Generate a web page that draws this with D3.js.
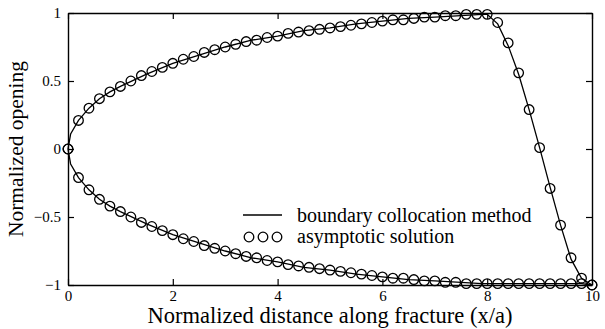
<!DOCTYPE html>
<html>
<head>
<meta charset="utf-8">
<script src="https://cdn.jsdelivr.net/npm/d3@7"></script>
<style>
  body { margin: 0; background: #fff; }
  svg { display: block; font-family: "Liberation Serif", "Times New Roman", serif; }
</style>
</head>
<body>
<svg id="chart" width="605" height="329"></svg>
<script>
// asymptotic solution (circles), step 0.2
const xs = [0, 0.2, 0.4, 0.6, 0.8, 1.0, 1.2, 1.4, 1.6, 1.8, 2.0, 2.2, 2.4, 2.6, 2.8, 3.0, 3.2, 3.4, 3.6, 3.8,
  4.0, 4.2, 4.4, 4.6, 4.8, 5.0, 5.2, 5.4, 5.6, 5.8, 6.0, 6.2, 6.4, 6.6, 6.8, 7.0, 7.2, 7.4, 7.6, 7.8,
  8.0, 8.2, 8.4, 8.6, 8.8, 9.0, 9.2, 9.4, 9.6, 9.8, 10.0];
const upper = [0, 0.21, 0.30, 0.37, 0.42, 0.46, 0.50, 0.54, 0.57, 0.60, 0.63, 0.66, 0.68, 0.71, 0.73, 0.75, 0.77, 0.79, 0.80, 0.82,
  0.83, 0.85, 0.86, 0.87, 0.88, 0.89, 0.90, 0.91, 0.92, 0.93, 0.94, 0.95, 0.95, 0.96, 0.97, 0.97, 0.98, 0.98, 0.99, 0.99,
  0.99, 0.93, 0.78, 0.56, 0.29, 0.01, -0.29, -0.56, -0.80, -0.95, -1.0];
const lower = [0, -0.21, -0.30, -0.37, -0.42, -0.46, -0.50, -0.54, -0.57, -0.60, -0.63, -0.66, -0.68, -0.71, -0.73, -0.75, -0.77, -0.79, -0.80, -0.82,
  -0.83, -0.85, -0.86, -0.87, -0.88, -0.89, -0.90, -0.91, -0.92, -0.93, -0.94, -0.95, -0.95, -0.96, -0.97, -0.97, -0.98, -0.98, -0.99, -0.99,
  -0.99, -0.99, -0.99, -0.99, -0.99, -0.99, -0.99, -0.99, -0.99, -0.99, -1.0];

// boundary collocation method (solid line)
const lineX = [0, 0.05, 0.2, 0.4, 0.6, 0.8, 1.0, 1.5, 2.0, 2.5, 3.0, 3.5, 4.0, 4.5, 5.0, 5.5, 6.0, 6.5, 7.0, 7.5, 7.9,
  8.0, 8.2, 8.4, 8.6, 8.8, 9.0, 9.2, 9.4, 9.6, 9.8, 10.0];
const lineUpper = [0, 0.11, 0.21, 0.30, 0.37, 0.42, 0.46, 0.55, 0.63, 0.69, 0.75, 0.80, 0.83, 0.87, 0.89, 0.92, 0.94, 0.96, 0.97, 0.98, 0.99,
  0.99, 0.92, 0.76, 0.55, 0.29, 0.01, -0.28, -0.56, -0.81, -0.95, -1.0];
const lineLower = [0, -0.11, -0.21, -0.30, -0.37, -0.42, -0.46, -0.55, -0.63, -0.69, -0.75, -0.80, -0.83, -0.87, -0.89, -0.92, -0.94, -0.96, -0.97, -0.98, -0.99,
  -0.99, -0.99, -0.99, -0.99, -0.99, -0.99, -0.99, -0.99, -0.99, -0.99, -1.0];

const xTicks = [0, 2, 4, 6, 8, 10];
const yTicks = [-1, -0.5, 0, 0.5, 1];
const yTickLabels = ["\u22121", "\u22120.5", "0", "0.5", "1"];

const svg = d3.select("#chart"),
  margin = { top: 13, right: 13, bottom: 44, left: 68 },
  width = +svg.attr("width") - margin.left - margin.right,
  height = +svg.attr("height") - margin.top - margin.bottom;

const g = svg.append("g").attr("transform", "translate(" + margin.left + "," + margin.top + ")");

const x = d3.scaleLinear().domain([0, 10]).range([0, width]);
const y = d3.scaleLinear().domain([-1, 1]).range([height, 0]);

// axes with inward ticks, all four sides make the frame
const axBottom = g.append("g").attr("transform", "translate(0," + height + ")")
  .call(d3.axisBottom(x).tickValues(xTicks).tickSizeInner(-6).tickSizeOuter(0).tickPadding(5).tickFormat(d3.format("d")));
const axLeft = g.append("g")
  .call(d3.axisLeft(y).tickValues(yTicks).tickSizeInner(-6).tickSizeOuter(0).tickPadding(7)
    .tickFormat((d, i) => yTickLabels[i]));
const axTop = g.append("g")
  .call(d3.axisTop(x).tickValues(xTicks).tickSizeInner(-6).tickSizeOuter(0).tickFormat(""));
const axRight = g.append("g").attr("transform", "translate(" + width + ",0)")
  .call(d3.axisRight(y).tickValues(yTicks).tickSizeInner(-6).tickSizeOuter(0).tickFormat(""));

[axBottom, axLeft, axTop, axRight].forEach(function (a) {
  a.selectAll("path").attr("stroke", "#000").attr("stroke-width", 1.4);
  a.selectAll("line").attr("stroke", "#000").attr("stroke-width", 1.2);
  a.selectAll("text").attr("font-size", "15px").attr("font-family", "Liberation Serif").attr("fill", "#000");
});

// lines
const line = d3.line().x((d) => x(d[0])).y((d) => y(d[1]));
[lineUpper, lineLower].forEach(function (vals) {
  g.append("path")
    .datum(lineX.map((v, i) => [v, vals[i]]))
    .attr("d", line)
    .attr("fill", "none")
    .attr("stroke", "#000")
    .attr("stroke-width", 1.3);
});

// circles
[upper, lower].forEach(function (vals) {
  g.append("g")
    .selectAll("circle")
    .data(xs.map((v, i) => [v, vals[i]]))
    .enter()
    .append("circle")
    .attr("cx", (d) => x(d[0]))
    .attr("cy", (d) => y(d[1]))
    .attr("r", 4.8)
    .attr("fill", "none")
    .attr("stroke", "#000")
    .attr("stroke-width", 1.3);
});

// legend
const legend = g.append("g").attr("transform", "translate(175,202)");
legend.append("line").attr("x1", 0).attr("x2", 39).attr("y1", 0).attr("y2", 0)
  .attr("stroke", "#000").attr("stroke-width", 1.3);
legend.append("text").attr("x", 54).attr("y", 7).attr("font-size", "20px").text("boundary collocation method");
legend.selectAll("circle.leg").data([6, 20, 34]).enter().append("circle")
  .attr("class", "leg")
  .attr("cx", (d) => d).attr("cy", 22).attr("r", 4.8)
  .attr("fill", "none").attr("stroke", "#000").attr("stroke-width", 1.3);
legend.append("text").attr("x", 54).attr("y", 28).attr("font-size", "20px").text("asymptotic solution");

// axis titles
svg.append("text")
  .attr("text-anchor", "middle")
  .attr("x", margin.left + width / 2)
  .attr("y", 323)
  .attr("font-size", "22.5px")
  .text("Normalized distance along fracture (x/a)");

svg.append("text")
  .attr("text-anchor", "middle")
  .attr("transform", "translate(23," + (margin.top + height / 2) + ") rotate(-90)")
  .attr("font-size", "21.5px")
  .text("Normalized opening");
</script>
</body>
</html>
